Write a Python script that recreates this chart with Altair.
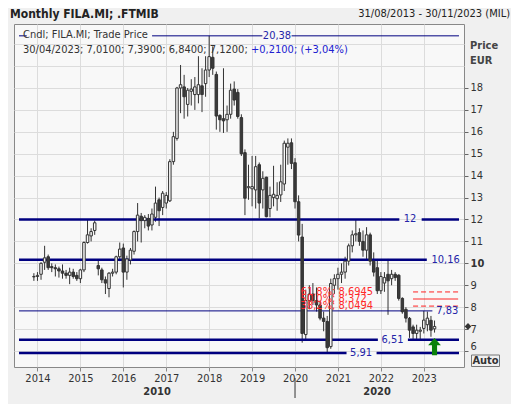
import altair as alt
import pandas as pd

FONT = "DejaVu Sans Condensed, Liberation Sans, sans-serif"

# ---------------- data ----------------
start_month = "2013-12"
opens = [9.38,
    9.40, 9.50, 10.05, 10.30, 9.85, 9.80, 9.75, 9.65, 9.55, 9.45, 9.60, 9.45,
    9.30, 9.70, 10.95, 11.25, 11.50, 9.90, 9.70, 9.25, 8.85, 9.55, 9.60, 10.30,
    10.70, 9.60, 10.15, 10.55, 11.45, 12.15, 11.95, 12.05, 11.75, 12.10, 12.90, 12.55,
    12.75, 12.85, 14.64, 15.70, 18.00, 18.05, 17.25, 17.85, 17.70, 17.70, 18.10, 18.20,
    18.82, 19.40, 18.62, 16.75, 16.60, 16.55, 16.80, 17.95, 17.80, 16.65, 15.05, 13.45,
    13.40, 13.35, 14.50, 13.35, 13.93, 12.50, 13.00, 12.95, 13.12, 13.62, 15.30, 15.50,
    14.59, 12.81, 11.20, 6.75, 8.30, 8.60, 8.30, 8.10, 7.50, 7.35, 6.20, 9.00,
    9.30, 9.50, 9.60, 10.10, 10.80, 11.30, 11.40, 11.00, 10.60, 11.30, 10.10, 9.80,
    8.75, 9.10, 9.50, 9.30, 9.50, 9.46, 8.40, 7.90, 7.49, 7.10, 6.80, 6.90,
    7.03, 7.20, 7.40, 7.01]
highs = [9.55,
    9.60, 10.05, 10.80, 10.40, 10.00, 9.95, 9.85, 9.95, 9.70, 9.80, 9.75, 9.60,
    9.75, 11.00, 12.00, 11.60, 11.95, 10.15, 9.80, 9.40, 9.60, 9.75, 10.35, 10.95,
    10.90, 10.35, 10.70, 11.50, 12.75, 12.30, 12.20, 12.25, 12.50, 13.50, 13.00, 13.30,
    13.25, 14.75, 16.00, 18.05, 19.05, 18.60, 18.00, 18.40, 18.50, 19.45, 18.90, 19.45,
    20.38, 19.90, 18.75, 16.80, 18.90, 17.20, 18.20, 18.30, 17.95, 16.80, 15.20, 14.50,
    14.90, 14.90, 14.60, 14.20, 13.95, 13.50, 14.45, 13.70, 14.50, 15.60, 15.70, 15.70,
    14.80, 13.10, 11.80, 8.80, 9.00, 9.10, 8.90, 8.30, 7.80, 7.60, 9.30, 9.50,
    9.80, 10.00, 10.30, 10.90, 11.50, 12.00, 11.60, 11.50, 11.65, 11.40, 10.50, 10.20,
    9.60, 9.60, 10.20, 9.70, 9.60, 9.50, 8.45, 8.00, 7.55, 7.20, 7.20, 7.10,
    7.83, 7.80, 7.60, 7.39]
lows = [9.20,
    9.20, 9.25, 9.70, 9.70, 9.60, 9.40, 9.35, 9.30, 9.30, 9.05, 9.30, 9.20,
    9.10, 9.60, 10.90, 11.00, 11.30, 9.45, 9.10, 8.60, 8.45, 9.40, 9.50, 10.10,
    8.90, 9.25, 9.95, 10.40, 11.00, 10.95, 11.60, 11.50, 11.50, 11.90, 11.70, 12.20,
    12.50, 12.80, 14.50, 15.60, 16.85, 16.60, 16.70, 17.20, 17.00, 17.30, 16.90, 17.60,
    18.50, 18.60, 16.10, 16.00, 15.95, 16.00, 16.60, 17.20, 16.60, 14.90, 12.20, 12.90,
    12.60, 12.50, 12.05, 12.50, 12.10, 12.10, 12.60, 12.40, 12.80, 13.30, 14.50, 14.30,
    12.50, 11.00, 6.38, 6.50, 7.90, 8.10, 7.80, 7.40, 6.90, 5.91, 6.10, 8.60,
    8.80, 9.10, 9.30, 9.90, 10.50, 11.00, 10.80, 10.30, 10.20, 9.90, 9.40, 8.60,
    8.60, 8.70, 7.65, 9.00, 9.20, 8.30, 7.70, 7.30, 6.60, 6.55, 6.55, 6.55,
    6.80, 6.90, 6.65, 6.84]
closes = [9.40,
    9.45, 10.00, 10.25, 9.80, 9.80, 9.75, 9.65, 9.55, 9.45, 9.60, 9.40, 9.30,
    9.70, 10.95, 11.30, 11.45, 11.85, 9.75, 9.25, 9.10, 9.55, 9.60, 10.30, 10.65,
    9.60, 10.20, 10.60, 11.45, 12.20, 11.95, 12.10, 11.70, 12.25, 12.75, 12.40, 13.20,
    13.10, 14.64, 15.78, 18.00, 18.15, 17.60, 17.90, 17.95, 18.05, 18.15, 17.70, 18.82,
    19.43, 18.90, 16.72, 16.55, 16.50, 16.80, 17.90, 17.45, 16.70, 15.00, 12.97, 13.50,
    13.50, 14.41, 12.75, 13.88, 12.13, 13.10, 13.15, 13.10, 13.72, 15.48, 15.48, 14.56,
    12.81, 11.29, 6.80, 8.30, 8.60, 8.30, 8.10, 7.50, 7.35, 6.15, 9.08, 9.30,
    9.50, 9.60, 10.10, 10.80, 11.30, 11.35, 11.00, 10.60, 11.30, 10.10, 9.60, 8.75,
    9.40, 9.35, 9.20, 9.50, 9.35, 8.40, 7.79, 7.50, 6.95, 6.80, 6.95, 6.95,
    7.41, 7.50, 6.95, 7.12]

# horizontal level lines (value, segments in years, width)
level_values = [20.38, 12.0, 10.16, 7.83, 6.51, 5.91]
level_labels = ["20,38", "12", "10,16", "7,83", "6,51", "5,91"]
level_widths = [1, 2.5, 2.5, 1, 2.5, 2.5]
level_segments = [
    [(2013.57, 2013.75), (2016.67, 2019.24), (2019.92, 2023.82)],
    [(2013.57, 2022.43), (2022.95, 2023.82)],
    [(2013.57, 2023.07)],
    [(2013.57, 2023.20)],
    [(2013.57, 2021.93), (2022.63, 2023.82)],
    [(2013.57, 2021.20), (2021.90, 2023.82)],
]
level_label_x = [2019.58, 2022.68, 2023.18, 2023.29, 2022.27, 2021.54]

fib_values = [8.6945, 8.372, 8.0494]
fib_labels = ["61,8%; 8,6945", "50,0%; 8,372", "38,2%; 8,0494"]
fib_dash = [[5, 3], [1, 0], [5, 3]]
fib_span = (2022.75, 2023.80)
fib_label_x = 2020.13

year_ticks = list(range(2014, 2024))
y_ticks = list(range(6, 21))
decades = [("2010", 2013.57, 2020.0), ("2020", 2020.0, 2023.82)]

X_DOMAIN = [2013.57, 2023.82]
Y_DOMAIN = [5.27, 20.92]
W, H = 450, 343

# ---------------- frames ----------------
months = pd.period_range(start_month, periods=len(opens), freq="M")
df = pd.DataFrame({
    "t": [p.year + (p.month - 1) / 12 for p in months],
    "open": opens, "high": highs, "low": lows, "close": closes,
})
df["dir"] = ["up" if c >= o else "down" for o, c in zip(opens, closes)]

seg_rows = []
for v, segs, w in zip(level_values, level_segments, level_widths):
    for a, b in segs:
        seg_rows.append({"v": v, "x1": a, "x2": b, "w": w})
seg_df = pd.DataFrame(seg_rows)
lab_df = pd.DataFrame({"v": level_values, "label": level_labels, "x": level_label_x})
lab_df["align"] = ["center", "center", "left", "left", "center", "center"]

xs = alt.Scale(domain=X_DOMAIN, nice=False, zero=False)
ys = alt.Scale(domain=Y_DOMAIN, nice=False, zero=False)

XAX = alt.Axis(
    values=year_ticks, format="d", grid=True, gridColor="#dcdcdc",
    tickColor="#888888", tickSize=4, labelColor="#333333", labelFontSize=11,
    labelFont=FONT, labelPadding=1, domain=False, title=None, labelOverlap=False)
YAX = alt.Axis(
    orient="right", values=y_ticks, grid=True, gridColor="#dcdcdc",
    labelExpr="datum.value > 18 ? '' : datum.label", labelOverlap=False,
    tickOpacity={"condition": {"test": "datum.value > 18", "value": 0}, "value": 1},
    labelFontWeight={"condition": {"test": "datum.value == 10", "value": "bold"}, "value": "normal"},
    labelOffset={"condition": {"test": "datum.value == 6", "value": -5}, "value": 0},
    tickColor="#666666", tickSize=4, labelColor="#333333", labelFontSize=11,
    labelFont=FONT, labelPadding=2, domain=False, title=None)


def X(f):
    return alt.X(f, scale=xs, axis=XAX)


def Y(f):
    return alt.Y(f, scale=ys, axis=YAX)


base = alt.Chart(df)

wicks = base.mark_rule(color="#333333", strokeWidth=1).encode(
    x=X("t:Q"), y=Y("low:Q"), y2="high:Q")

bodies = base.mark_bar(size=2.5, stroke="#333333", strokeWidth=1).encode(
    x=X("t:Q"),
    y=Y("open:Q"),
    y2="close:Q",
    color=alt.Color("dir:N", scale=alt.Scale(domain=["up", "down"], range=["#f8f8f8", "#3a3a3a"]), legend=None),
)

levels = alt.Chart(seg_df).mark_rule(color="#000080").encode(
    x=X("x1:Q"), x2="x2:Q",
    y=Y("v:Q"),
    strokeWidth=alt.StrokeWidth("w:Q", scale=None),
)

lab_center = alt.Chart(lab_df[lab_df["align"] == "center"]).mark_text(
    font=FONT, fontSize=11, color="#2424a8", align="center", baseline="middle").encode(
    x=X("x:Q"), y=Y("v:Q"), text="label:N")
lab_left = alt.Chart(lab_df[lab_df["align"] == "left"]).mark_text(
    font=FONT, fontSize=11, color="#2424a8", align="left", baseline="middle").encode(
    x=X("x:Q"), y=Y("v:Q"), text="label:N")

fib_df = pd.DataFrame({"v": fib_values, "label": fib_labels,
                       "x1": fib_span[0], "x2": fib_span[1], "xl": fib_label_x})
fib_lines = []
for i in range(3):
    fib_lines.append(alt.Chart(fib_df.iloc[[i]]).mark_rule(color="#ff2020", strokeWidth=1,
                     strokeDash=fib_dash[i]).encode(
        x=X("x1:Q"), x2="x2:Q", y=Y("v:Q")))
fib_text = alt.Chart(fib_df).mark_text(font=FONT, fontSize=11, color="#ff2a2a",
                                       align="left", baseline="middle").encode(
    x=X("xl:Q"), y=Y("v:Q"), text="label:N")

last = df.iloc[[-1]]
diamond = alt.Chart(last).mark_point(shape="diamond", filled=True, size=45, color="#333333",
                                     opacity=1).encode(
    x=alt.value(454), y=Y("close:Q"))

arrow_df = pd.DataFrame({"t": [df["t"].iloc[-1]], "v": [6.2]})
arrow = alt.Chart(arrow_df).mark_point(
    shape="M0,-1L0.75,-0.15L0.3,-0.15L0.3,1L-0.3,1L-0.3,-0.15L-0.75,-0.15Z",
    filled=True, size=290, color="#0a800a", opacity=1).encode(
    x=X("t:Q"), y=Y("v:Q"))

dec_df = pd.DataFrame({"label": [d[0] for d in decades],
                       "x": [(d[1] + d[2]) / 2 for d in decades]})
dec_text = alt.Chart(dec_df).mark_text(font=FONT, fontSize=11, fontWeight="bold",
                                       color="#333333", baseline="middle").encode(
    x=X("x:Q"), y=alt.value(368), text="label:N")
sep = alt.Chart(pd.DataFrame({"x": [2020.0]})).mark_rule(color="#333333").encode(
    x=X("x:Q"), y=alt.value(354), y2=alt.value(374))


def txt(s, x, y, align="left", weight="normal", color="#333333", size=11):
    return alt.Chart(pd.DataFrame({"s": [s]})).mark_text(
        font=FONT, fontSize=size, fontWeight=weight, color=color, align=align,
        baseline="middle").encode(x=alt.value(x), y=alt.value(y), text="s:N")


title = txt("Monthly FILA.MI; .FTMIB", -4, -10, weight="bold", color="#222222", size=12)
daterange = txt("31/08/2013 - 30/11/2023 (MIL)", 496, -10, align="right", color="#222222")
legend1 = txt("Cndl; FILA.MI; Trade Price", 9, 11)
legend2 = txt("30/04/2023; 7,0100; 7,3900; 6,8400; 7,1200;", 9, 26)
legend3 = txt("+0,2100; (+3,04%)", 237, 26, color="#2020d0")
price = txt("Price", 456, 22, weight="bold", color="#444444")
eur = txt("EUR", 456, 37, weight="bold", color="#444444")

auto_box = alt.Chart(pd.DataFrame({"a": [0]})).mark_rect(
    fill="#f0f0f0", stroke="#777777", strokeWidth=1).encode(
    x=alt.value(457.5), x2=alt.value(485.5), y=alt.value(331), y2=alt.value(342.5))
auto_txt = txt("Auto", 471.5, 337, align="center", weight="bold", color="#333333")

chart = alt.layer(
    wicks, levels, *fib_lines, bodies, lab_center, lab_left, fib_text,
    diamond, arrow, dec_text, sep, title, daterange, legend1, legend2, legend3,
    price, eur, auto_box, auto_txt,
).properties(
    width=W, height=H,
    padding={"left": 6, "top": 16, "right": 47, "bottom": 37},
    autosize=alt.AutoSizeParams(type="none"),
    background="#f0f0f0",
).configure_view(
    stroke="#888888", fill="#f8f8f8", clip=False,
).configure_axis(
    labelFont=FONT,
)

chart.save("out.html", embed_options={"renderer": "svg", "actions": False})
